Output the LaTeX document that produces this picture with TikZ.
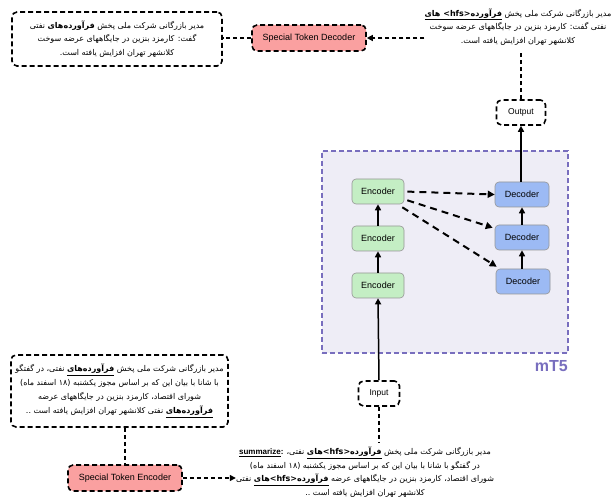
\documentclass[tikz,border=0pt]{standalone}
\usepackage{fontspec}
\setmainfont{Liberation Sans}
\newfontfamily\fa[Script=Arabic]{DejaVu Sans}
\TeXXeTstate=1
\usetikzlibrary{arrows.meta,calc}
\definecolor{redfill}{RGB}{250,160,160}
\definecolor{encfill}{RGB}{196,238,196}
\definecolor{decfill}{RGB}{156,186,244}
\definecolor{mtfill}{RGB}{238,237,246}
\definecolor{mtline}{RGB}{120,110,190}
\definecolor{boxgray}{RGB}{150,150,150}
\newcommand\RL[1]{{\fa\beginR #1\endR}}
\newcommand\ulb[1]{\underline{\textbf{#1}}}
\begin{document}
\begin{tikzpicture}[x=1pt,y=-1pt,
  dbox/.style={draw, rounded corners=5pt, line width=1.6pt, dash pattern=on 5pt off 3pt, inner sep=0pt},
  tokbox/.style={dbox, fill=redfill, minimum width=114pt, minimum height=26pt, font=\fontsize{9}{11}\selectfont},
  iobox/.style={dbox, minimum height=25pt, font=\fontsize{8.5}{10}\selectfont},
  encbox/.style={draw=boxgray, fill=encfill, rounded corners=4pt, line width=0.6pt, minimum width=52pt, minimum height=25pt, inner sep=0pt, font=\fontsize{9}{11}\selectfont},
  decbox/.style={draw=boxgray, fill=decfill, rounded corners=4pt, line width=0.6pt, minimum width=54pt, minimum height=25pt, inner sep=0pt, font=\fontsize{9}{11}\selectfont},
  fatxt/.style={align=center, inner sep=0pt, font=\fontsize{8}{13.5}\selectfont},
  thinlink/.style={line width=1.3pt, dash pattern=on 4pt off 3pt},
  solidarrow/.style={line width=1.5pt, -{Triangle[length=6pt,width=6pt]}},
  crossarrow/.style={line width=2pt, dash pattern=on 7pt off 5pt, -{Triangle[length=7pt,width=7pt]}},
  linkarrow/.style={thinlink, -{Triangle[length=6pt,width=6pt]}}
]
\useasboundingbox (0,0) rectangle (616,502);

% mT5 region
\node[draw=mtline, fill=mtfill, line width=1.2pt, dash pattern=on 5pt off 3pt, minimum width=246pt, minimum height=202pt, inner sep=0pt] (mt) at (445,252) {};
\node[anchor=east, text=mtline, font=\bfseries\fontsize{16}{18}\selectfont, inner sep=0pt] (mtl) at (568,366) {mT5};

% encoders / decoders
\node[encbox] (e1) at (378,191.5) {Encoder};
\node[encbox] (e2) at (378,238.5) {Encoder};
\node[encbox] (e3) at (378,285.5) {Encoder};
\node[decbox] (d1) at (522,194.5) {Decoder};
\node[decbox] (d2) at (522,237.5) {Decoder};
\node[decbox] (d3) at (523,281.5) {Decoder};

% input / output
\node[iobox, minimum width=41pt] (inp) at (379,393.5) {Input};
\node[iobox, minimum width=49pt] (out) at (521,112.5) {Output};

% special token boxes
\node[tokbox] (std) at (309,38) {Special Token Decoder};
\node[tokbox] (ste) at (125,478) {Special Token Encoder};

% top-left result box
\node[dbox, minimum width=210pt, minimum height=54pt, fatxt] (tl) at (117,39) {%
\RL{مدیر بازرگانی شرکت ملی پخش \textbf{فرآورده‌های} نفتی}\\
\RL{گفت: کارمزد بنزین در جایگاههای عرضه سوخت}\\
\RL{کلانشهر تهران افزایش یافته است.}};

% top-right raw output text
\node[fatxt] (tr) at (518,27) {%
\RL{مدیر بازرگانی شرکت ملی پخش \ulb{\beginR فرآورده\beginL <hfs>\endL{} های\endR}}\\
\RL{نفتی گفت: کارمزد بنزین در جایگاههای عرضه سوخت}\\
\RL{کلانشهر تهران افزایش یافته است.}};

% bottom-left source box
\node[dbox, minimum width=217pt, minimum height=72pt, fatxt, font=\fontsize{8}{14}\selectfont] (bl) at (119.5,391) {%
\RL{مدیر بازرگانی شرکت ملی پخش \ulb{فرآورده‌های} نفتی، در گفتگو}\\
\RL{با شانا با بیان این که بر اساس مجوز یکشنبه (۱۸ اسفند ماه)}\\
\RL{شورای اقتصاد، کارمزد بنزین در جایگاههای عرضه}\\
\RL{\ulb{فرآورده‌های} نفتی کلانشهر تهران افزایش یافته است ..}};

% bottom model input text
\node[fatxt] (bt) at (365,472) {%
\textbf{\underline{summarize}:} \RL{مدیر بازرگانی شرکت ملی پخش \ulb{\beginR فرآورده\beginL <hfs>\endL{}های\endR} نفتی،}\\
\RL{در گفتگو با شانا با بیان این که بر اساس مجوز یکشنبه (۱۸ اسفند ماه)}\\
\RL{شورای اقتصاد، کارمزد بنزین در جایگاههای عرضه \ulb{\beginR فرآورده\beginL <hfs>\endL{}های\endR} نفتی}\\
\RL{کلانشهر تهران افزایش یافته است ..}};

\coordinate (trbot) at (521,53);
\coordinate (bttop) at (379,442);

% solid arrows
\draw[solidarrow] (inp.north) -- (e3.south);
\draw[solidarrow] (e3.north) -- (e2.south);
\draw[solidarrow] (e2.north) -- (e1.south);
\draw[solidarrow] (d3.north -| d2.south) -- (d2.south);
\draw[solidarrow] (d2.north) -- (d1.south);
\draw[solidarrow] (d1.north -| out.south) -- (out.south);

% encoder to decoder cross attention
\draw[crossarrow, shorten <=3pt] (e1.east) -- (d1.west);
\draw[crossarrow] ($(e1.south east)+(3,-4)$) -- ($(d2.north west)+(-2,3)$);
\draw[crossarrow] ($(e1.south east)+(-2,3)$) -- ($(d3.north west)+(1,-2)$);

% dashed links
\draw[thinlink] (out.north) -- (trbot);
\draw[linkarrow] (tr.west |- std.east) -- (std.east);
\draw[thinlink] (std.west) -- (tl.east |- std.west);
\draw[thinlink] (inp.south) -- (bttop);
\draw[thinlink] (bl.south -| ste.north) -- (ste.north);
\draw[linkarrow] (ste.east) -- (ste.east -| bt.west);
\end{tikzpicture}
\end{document}
